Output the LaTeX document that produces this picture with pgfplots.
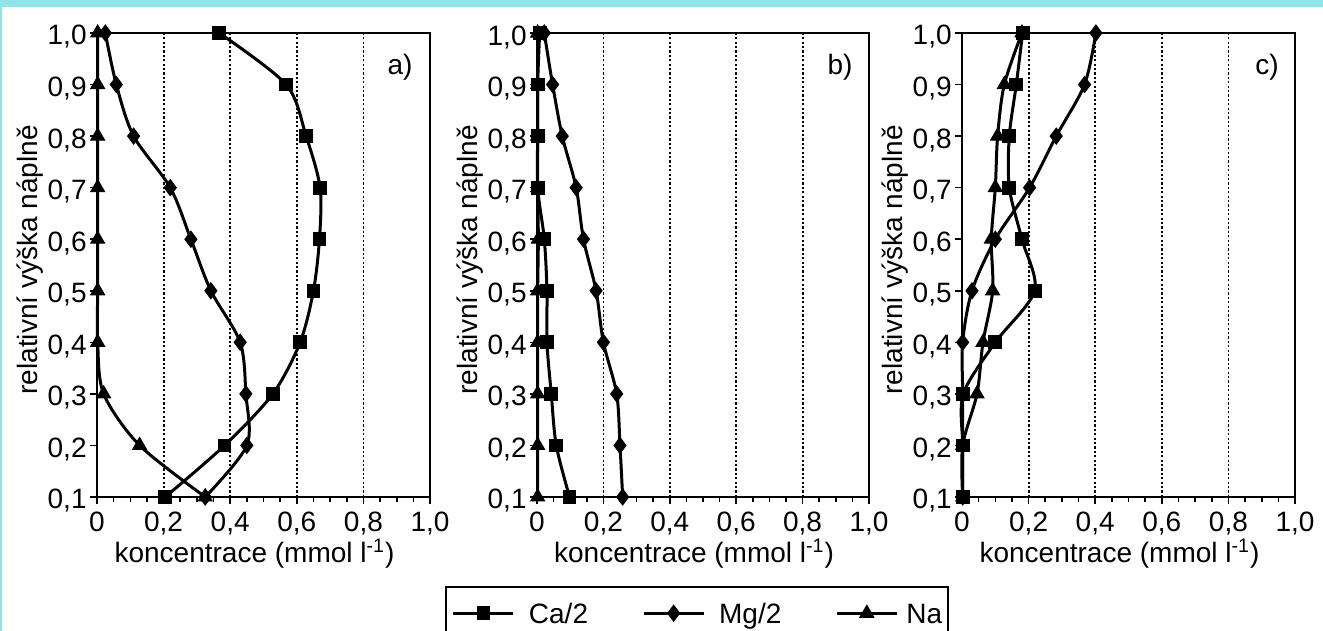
\documentclass[border=0pt]{standalone}
\usepackage{fontspec}
\setmainfont{Liberation Sans}
\usepackage{pgfplots}
\pgfplotsset{compat=1.18}
\definecolor{framecyan}{RGB}{145,228,234}

\newcommand{\fs}{\fontsize{14}{16}\selectfont}

\pgfplotsset{
  panel/.style={
    scale only axis, width=166.5pt, height=232pt,
    anchor=north west,
    xmin=0, xmax=1, ymin=0.1, ymax=1.0,
    xtick={0,0.2,0.4,0.6,0.8,1.0},
    xticklabels={0,{0,2},{0,4},{0,6},{0,8},{1,0}},
    ytick={0.1,0.2,0.3,0.4,0.5,0.6,0.7,0.8,0.9,1.0},
    yticklabels={{0,1},{0,2},{0,3},{0,4},{0,5},{0,6},{0,7},{0,8},{0,9},{1,0}},
    minor x tick num=3,
    tick align=outside, tick pos=left,
    major tick length=3.5pt, minor tick length=2.5pt,
    every tick/.style={black, line width=0.8pt},
    axis line style={black, line width=1.2pt},
    xmajorgrids,
    major x grid style={black, line width=0.9pt, dash pattern=on 1.1pt off 1.1pt},
    ticklabel style={font=\fs},
    xticklabel style={anchor=base, yshift=-14pt},
    yticklabel style={anchor=base east, inner sep=0pt, xshift=-1.5pt, yshift=-6pt},
    xlabel={koncentrace (mmol l\textsuperscript{-1})},
    ylabel={relativní výška náplně},
    every axis x label/.style={at={(axis description cs:0.473,0)}, anchor=base, yshift=-33pt, font=\fs},
    every axis y label/.style={at={(axis description cs:0,0.511)}, anchor=center, xshift=-33.5pt, rotate=90, font=\fs},
    clip=false,
    every axis plot/.append style={black, line width=1.5pt, smooth},
  },
  ca/.style={mark=square*, mark size=3.2pt, mark options={solid, fill=black, line width=0.5pt}},
  mg/.style={mark=diamond*, mark size=4pt, mark options={solid, fill=black, line width=0.5pt}},
  na/.style={mark=triangle*, mark size=4pt, mark options={solid, fill=black, line width=0.5pt}},
}

\begin{document}
\begin{tikzpicture}
\useasboundingbox (0,0) rectangle (661.5pt,-315.5pt);
\clip (0,0) rectangle (661.5pt,-315.5pt);
\fill[white] (0,0) rectangle (661.5pt,-315.5pt);
\fill[framecyan] (0,0) rectangle (661.5pt,-3.5pt);
\fill[framecyan] (0,0) rectangle (1pt,-315.5pt);

% a)
\begin{axis}[panel, at={(48.5pt,-16.5pt)}]
\addplot[ca] coordinates {(0.367,1.0)(0.568,0.9)(0.628,0.8)(0.670,0.7)(0.668,0.6)(0.650,0.5)(0.610,0.4)(0.528,0.3)(0.383,0.2)(0.205,0.1)};
\addplot[mg] coordinates {(0.025,1.0)(0.058,0.9)(0.110,0.8)(0.220,0.7)(0.282,0.6)(0.342,0.5)(0.430,0.4)(0.447,0.3)(0.450,0.2)(0.325,0.1)};
\addplot[na] coordinates {(0.002,1.0)(0.002,0.9)(0.002,0.8)(0.002,0.7)(0.002,0.6)(0.002,0.5)(0.002,0.4)(0.020,0.3)(0.128,0.2)(0.325,0.1)};
\node[font=\fs] at (rel axis cs:0.91,0.927) {a)};
\end{axis}

% b)
\begin{axis}[panel, at={(268.5pt,-16.5pt)}, width=166pt,
  legend columns=3,
  legend style={at={(axis description cs:-0.277,-0.192)}, anchor=north west,
    draw=black, line width=0.9pt, inner xsep=3pt, inner ysep=5pt, font=\fs,
    nodes={inner sep=3pt, anchor=base west},
    /tikz/every odd column/.append style={column sep=4pt}},
  legend image code/.code={\draw[mark repeat=2,mark phase=2,#1] plot coordinates {(0pt,5pt) (15pt,5pt) (30pt,5pt)};},
]
\addplot[ca] coordinates {(0.008,1.0)(0.002,0.9)(0.002,0.8)(0.002,0.7)(0.022,0.6)(0.030,0.5)(0.030,0.4)(0.043,0.3)(0.058,0.2)(0.098,0.1)};
\addlegendentry[text width=53.6pt]{Ca/2}
\addplot[mg] coordinates {(0.022,1.0)(0.047,0.9)(0.076,0.8)(0.118,0.7)(0.140,0.6)(0.178,0.5)(0.200,0.4)(0.240,0.3)(0.250,0.2)(0.258,0.1)};
\addlegendentry[text width=55.1pt]{Mg/2}
\addplot[na] coordinates {(0.002,1.0)(0.002,0.9)(0.002,0.8)(0.002,0.7)(0.004,0.6)(0.002,0.5)(0.002,0.4)(0.002,0.3)(0.002,0.2)(0.002,0.1)};
\addlegendentry[inner xsep=0pt]{Na}
\node[font=\fs] at (rel axis cs:0.913,0.927) {b)};
\end{axis}

% c)
\begin{axis}[panel, at={(481pt,-16.5pt)}]
\addplot[ca] coordinates {(0.182,1.0)(0.163,0.9)(0.142,0.8)(0.142,0.7)(0.180,0.6)(0.218,0.5)(0.100,0.4)(0.004,0.3)(0.002,0.2)(0.002,0.1)};
\addplot[mg] coordinates {(0.402,1.0)(0.368,0.9)(0.283,0.8)(0.203,0.7)(0.100,0.6)(0.030,0.5)(0.002,0.4)(0.002,0.3)(0.002,0.2)(0.002,0.1)};
\addplot[na] coordinates {(0.180,1.0)(0.127,0.9)(0.107,0.8)(0.100,0.7)(0.088,0.6)(0.092,0.5)(0.063,0.4)(0.045,0.3)(0.002,0.2)(0.002,0.1)};
\node[font=\fs] at (rel axis cs:0.916,0.927) {c)};
\end{axis}
\end{tikzpicture}
\end{document}
